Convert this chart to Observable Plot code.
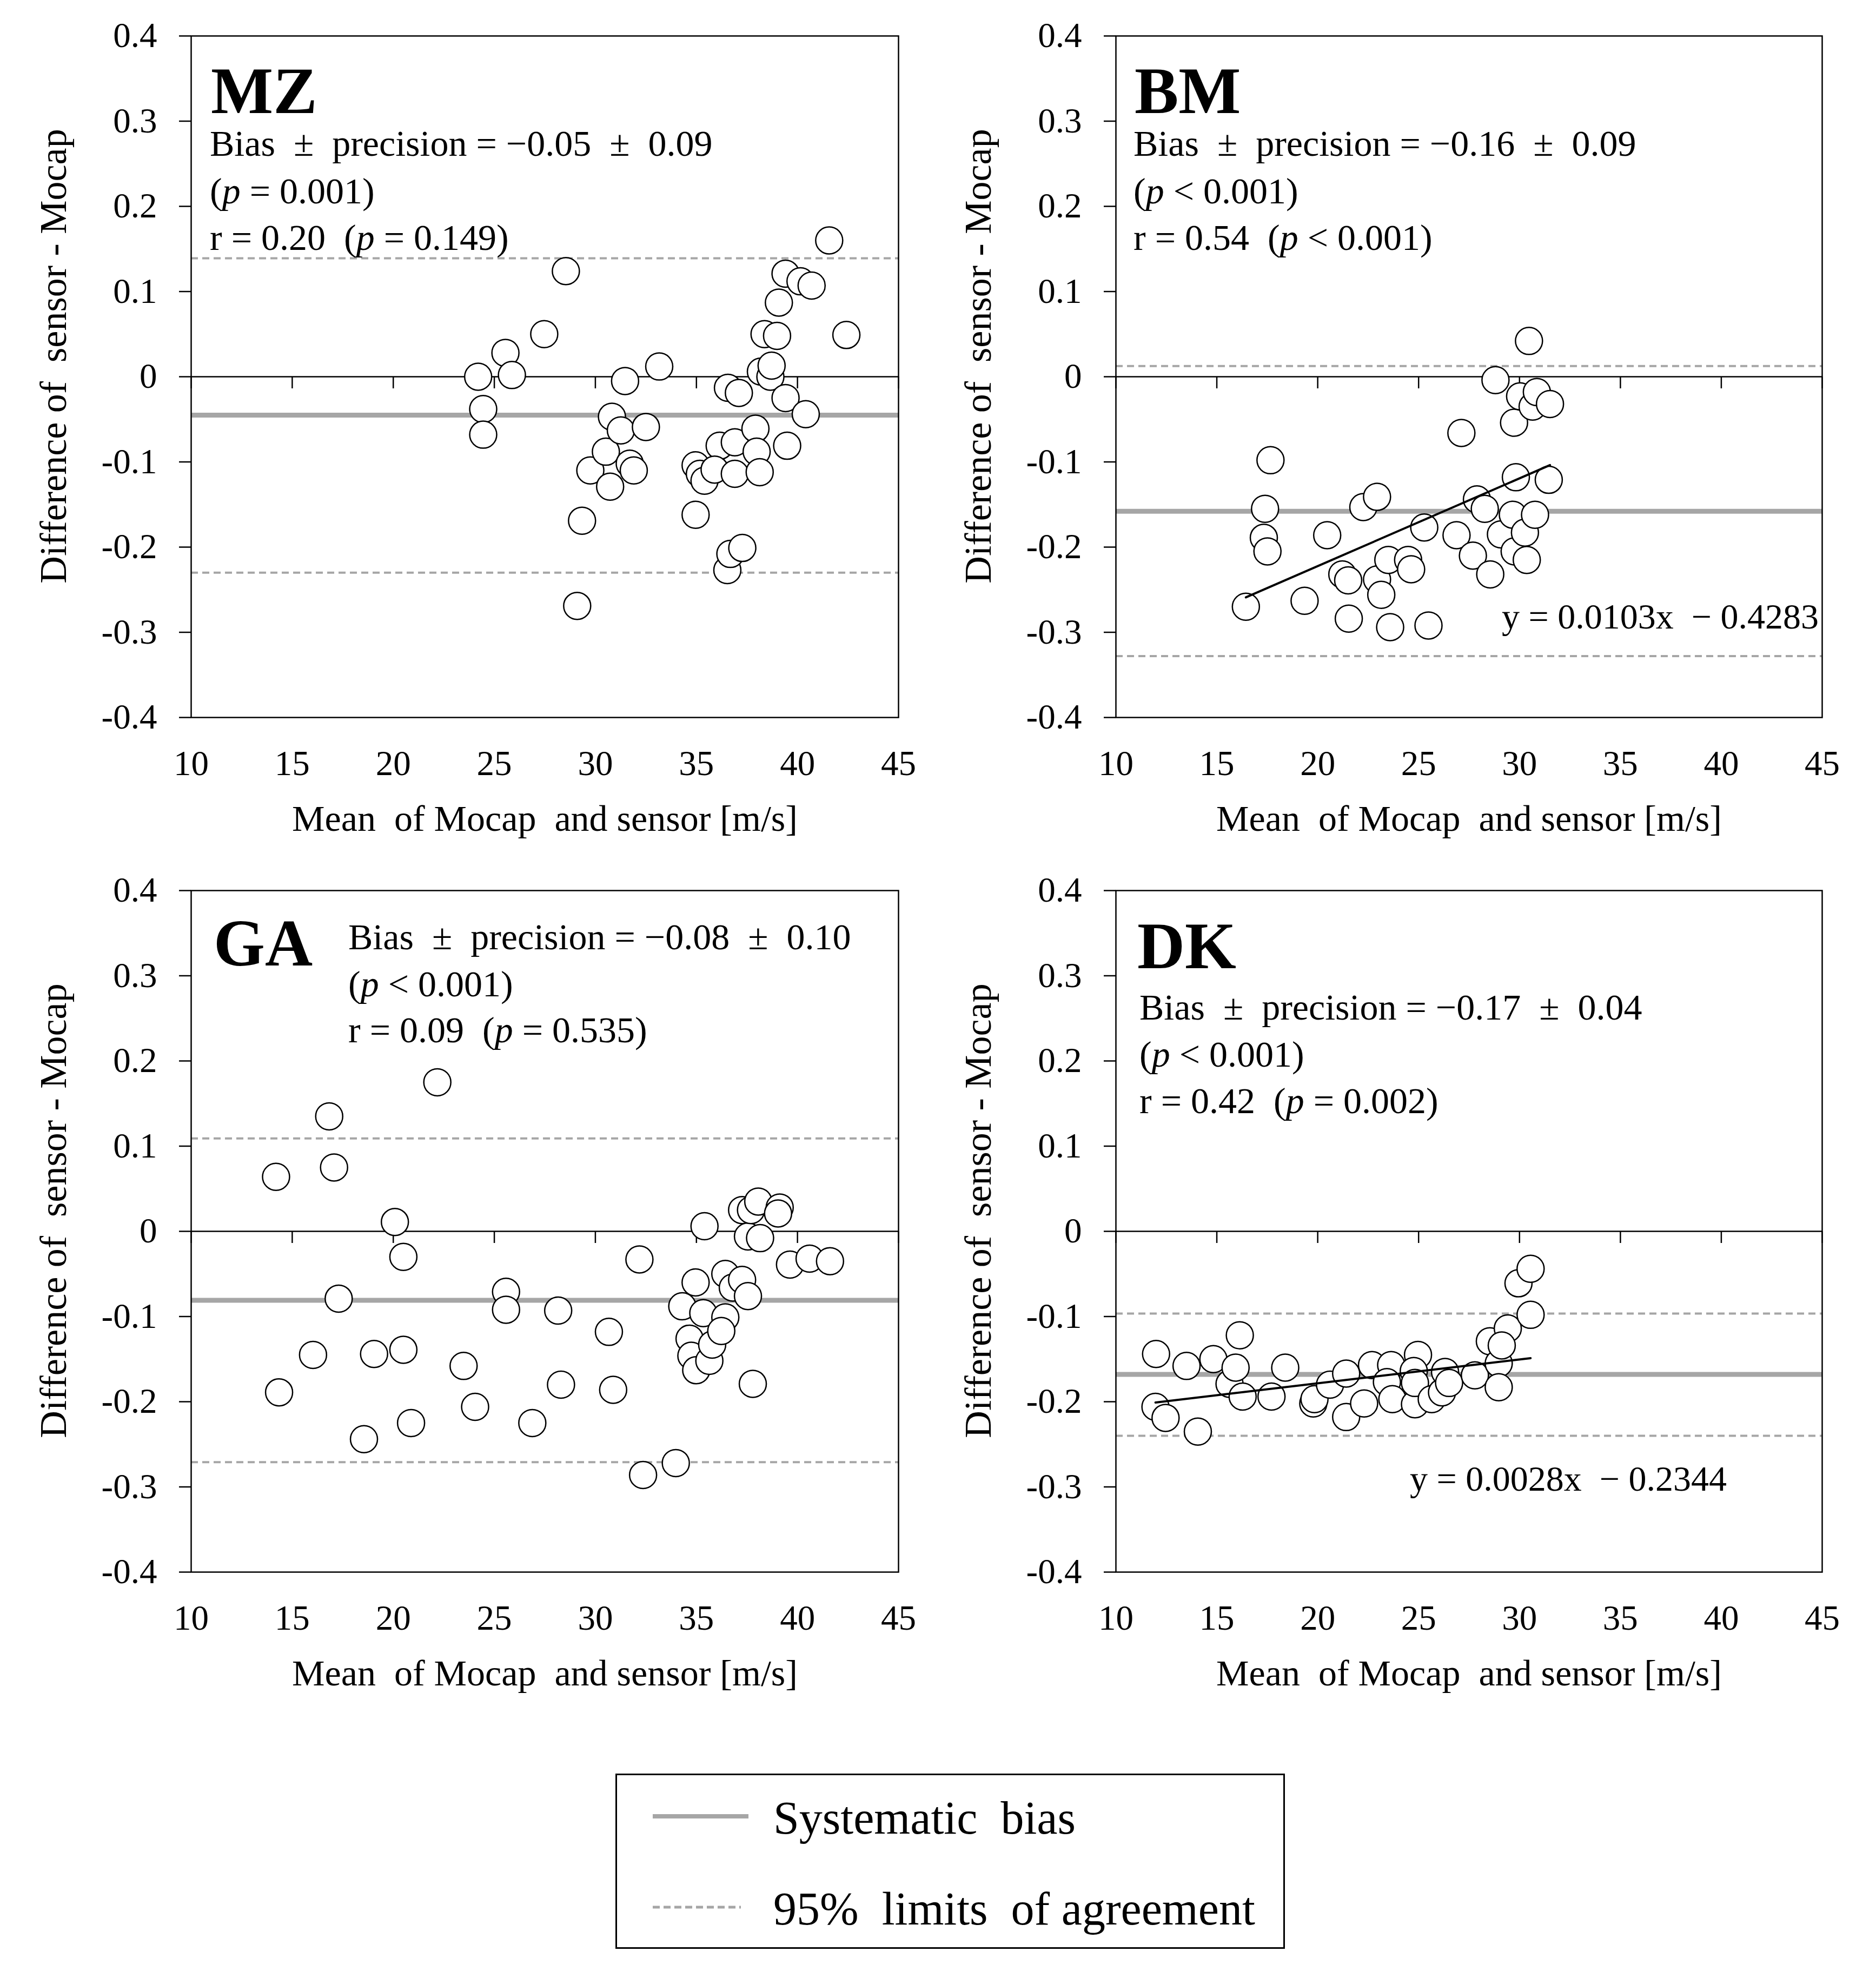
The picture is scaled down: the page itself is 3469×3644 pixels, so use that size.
<!DOCTYPE html>
<html>
<head>
<meta charset="utf-8">
<script src="https://cdn.jsdelivr.net/npm/d3@7"></script>
<script src="https://cdn.jsdelivr.net/npm/@observablehq/plot@0.6"></script>
<style>
  html, body { margin: 0; padding: 0; background: #fff; }
  #root { position: relative; width: 3469px; height: 3644px; background: #fff; overflow: hidden;
          font-family: "Liberation Serif", "Times New Roman", serif; color: #000; }
  .panel { position: absolute; }
  .panel svg text { white-space: pre; }
  #legend { position: absolute; left: 0; top: 0; }
  #legend text { white-space: pre; }
</style>
</head>
<body>
<div id="root"></div>
<script>
// ---------------- DATA ----------------
const xTicks = [10, 15, 20, 25, 30, 35, 40, 45];
const yTicks = [0.4, 0.3, 0.2, 0.1, 0, -0.1, -0.2, -0.3, -0.4];
const xTitle = "Mean  of Mocap  and sensor [m/s]";
const yTitle = "Difference of  sensor - Mocap";
const panelNames = ["MZ", "BM", "GA", "DK"];

const mzX = [24.2, 24.45, 24.45, 25.55, 25.87, 27.47, 28.54, 29.1, 29.34, 29.75, 30.52, 30.73, 30.82, 31.26, 31.47, 31.7, 31.9, 32.5, 33.16, 34.96, 35.17, 35.4, 34.96, 36.15, 35.9, 36.56, 37.1, 36.9, 36.9, 36.53, 36.68, 37.27, 37.92, 37.98, 38.13, 38.19, 38.37, 38.66, 38.72, 38.99, 39.08, 39.41, 39.41, 39.49, 40.15, 40.7, 40.41, 41.57, 42.42];
const mzY = [0.0, -0.038, -0.068, 0.028, 0.002, 0.05, 0.124, -0.269, -0.169, -0.11, -0.088, -0.129, -0.047, -0.063, -0.005, -0.102, -0.11, -0.059, 0.012, -0.104, -0.114, -0.122, -0.162, -0.081, -0.109, -0.013, -0.019, -0.077, -0.114, -0.227, -0.208, -0.201, -0.061, -0.088, -0.112, 0.006, 0.05, 0.0, 0.013, 0.048, 0.087, 0.121, -0.025, -0.081, 0.112, 0.107, -0.044, 0.16, 0.049];

const bmX = [16.44, 17.66, 17.39, 17.33, 17.51, 19.35, 20.47, 21.22, 21.51, 21.54, 22.26, 22.94, 22.94, 23.15, 23.59, 23.5, 24.48, 24.63, 25.28, 25.49, 26.88, 27.12, 27.69, 27.89, 28.28, 28.55, 28.81, 29.08, 29.73, 29.82, 29.67, 29.76, 30.03, 30.27, 30.36, 30.47, 30.65, 30.86, 30.77, 31.51, 31.45];
const bmY = [-0.27, -0.098, -0.155, -0.189, -0.205, -0.263, -0.186, -0.232, -0.239, -0.284, -0.153, -0.141, -0.238, -0.256, -0.294, -0.215, -0.215, -0.226, -0.177, -0.292, -0.186, -0.066, -0.21, -0.144, -0.155, -0.232, -0.004, -0.185, -0.054, -0.118, -0.162, -0.205, -0.023, -0.183, -0.215, 0.042, -0.035, -0.018, -0.162, -0.032, -0.121];

const gaX = [14.2, 14.35, 16.03, 16.83, 17.07, 17.3, 18.55, 19.05, 20.08, 20.5, 20.5, 20.88, 22.18, 23.48, 24.05, 25.58, 25.58, 26.88, 28.16, 28.3, 30.67, 30.88, 32.18, 32.36, 33.98, 34.3, 34.96, 34.66, 34.75, 34.99, 35.4, 35.34, 35.64, 35.78, 36.43, 36.43, 36.23, 36.8, 37.26, 37.26, 37.55, 37.79, 37.55, 37.7, 38.06, 38.15, 39.12, 39.04, 39.63, 40.6, 41.61];
const gaY = [0.064, -0.189, -0.145, 0.135, 0.075, -0.079, -0.244, -0.144, 0.011, -0.03, -0.139, -0.225, 0.175, -0.158, -0.206, -0.071, -0.092, -0.225, -0.093, -0.18, -0.118, -0.186, -0.033, -0.286, -0.272, -0.088, -0.06, -0.126, -0.146, -0.163, 0.006, -0.096, -0.152, -0.133, -0.05, -0.101, -0.117, -0.066, -0.057, 0.025, -0.076, -0.179, -0.006, 0.025, 0.035, -0.008, 0.028, 0.021, -0.039, -0.032, -0.035];

const dkX = [11.99, 11.96, 12.46, 13.5, 14.06, 14.83, 15.63, 15.93, 16.14, 16.28, 17.71, 18.39, 19.78, 19.84, 20.61, 21.41, 21.41, 22.3, 22.69, 23.64, 23.43, 23.7, 24.97, 24.76, 24.82, 24.82, 25.65, 26.16, 26.31, 26.51, 27.79, 28.53, 28.97, 28.97, 29.42, 29.12, 29.95, 30.55, 30.55];
const dkY = [-0.144, -0.206, -0.219, -0.158, -0.235, -0.15, -0.179, -0.16, -0.122, -0.194, -0.194, -0.16, -0.202, -0.197, -0.18, -0.167, -0.218, -0.202, -0.157, -0.157, -0.177, -0.197, -0.145, -0.164, -0.203, -0.178, -0.197, -0.189, -0.165, -0.178, -0.169, -0.129, -0.155, -0.183, -0.114, -0.134, -0.061, -0.098, -0.044];

const biasValues = [-0.045, -0.158, -0.081, -0.168];
const loaUpper = [0.139, 0.0126, 0.109, -0.0965];
const loaLower = [-0.230, -0.328, -0.271, -0.240];
const fitSlope = [null, 0.0103, null, 0.0028];
const fitIntercept = [null, -0.4283, null, -0.2344];
const fitLabels = [null, "y = 0.0103x  \u2212 0.4283", null, "y = 0.0028x  \u2212 0.2344"];

const statLine1 = [
  "Bias  \u00b1  precision = \u22120.05  \u00b1  0.09",
  "Bias  \u00b1  precision = \u22120.16  \u00b1  0.09",
  "Bias  \u00b1  precision = \u22120.08  \u00b1  0.10",
  "Bias  \u00b1  precision = \u22120.17  \u00b1  0.04"
];
const statLine2 = ["(*p* = 0.001)", "(*p* < 0.001)", "(*p* < 0.001)", "(*p* < 0.001)"];
const statLine3 = ["r = 0.20  (*p* = 0.149)", "r = 0.54  (*p* < 0.001)", "r = 0.09  (*p* = 0.535)", "r = 0.42  (*p* = 0.002)"];

const legendLabels = ["Systematic  bias", "95%  limits  of agreement"];

const seriesX = [mzX, bmX, gaX, dkX];
const seriesY = [mzY, bmY, gaY, dkY];

// ---------------- LAYOUT ----------------
const panelLayout = [
  {left: 0,    top: 0,    width: 1734, height: 1580, ml: 353, mr: 73,  mt: 66, mb: 254,
   tag: [390, 209], stats: [388, [288, 376, 462]], fit: null},
  {left: 1734, top: 0,    width: 1735, height: 1580, ml: 329, mr: 100, mt: 66, mb: 254,
   tag: [364, 209], stats: [362, [288, 376, 462]], fit: [1043, 1162]},
  {left: 0,    top: 1580, width: 1734, height: 1580, ml: 353, mr: 73,  mt: 66, mb: 254,
   tag: [395, 205], stats: [644, [175, 262, 347]], fit: null},
  {left: 1734, top: 1580, width: 1735, height: 1580, ml: 329, mr: 100, mt: 66, mb: 254,
   tag: [369, 210], stats: [373, [305, 392, 478]], fit: [873, 1176]}
];

const FONT = "Liberation Serif";
const GRAY = "#a6a6a6";

function addRichText(svg, x, y, str, size, weight) {
  const t = d3.select(svg).append("text")
    .attr("x", x).attr("y", y)
    .attr("text-anchor", "start")
    .attr("font-family", FONT)
    .attr("font-size", size)
    .attr("font-weight", weight || "normal")
    .attr("fill", "black")
    .style("white-space", "pre");
  str.split(/(\*p\*)/).forEach(seg => {
    if (!seg) return;
    if (seg === "*p*") t.append("tspan").attr("font-style", "italic").text("p");
    else t.append("tspan").text(seg);
  });
}

function makePanel(i) {
  const L = panelLayout[i];
  const xs = seriesX[i], ys = seriesY[i];
  const pts = xs.map((x, k) => ({x, y: ys[k]}));
  const marks = [
    Plot.ruleY([0], {stroke: "black", strokeWidth: 2.5}),
    Plot.ruleX(xTicks, {x: d => d, y1: () => 0, y2: () => 0, insetBottom: -22, stroke: "black", strokeWidth: 2.5}),
    Plot.ruleY([biasValues[i]], {stroke: GRAY, strokeWidth: 9}),
    Plot.ruleY([loaUpper[i], loaLower[i]], {stroke: GRAY, strokeWidth: 4, strokeDasharray: "13,8"}),
    Plot.dot(pts, {x: "x", y: "y", r: 25, fill: "white", stroke: "black", strokeWidth: 2.5})
  ];
  if (fitSlope[i] != null) {
    const ext = d3.extent(xs);
    marks.push(Plot.line(ext, {x: d => d, y: d => fitSlope[i] * d + fitIntercept[i], stroke: "black", strokeWidth: 4}));
  }
  marks.push(
    Plot.frame({stroke: "black", strokeWidth: 2.5}),
    Plot.axisY(yTicks, {tickSize: 22, tickPadding: 41, strokeWidth: 2.5, label: null,
      tickFormat: d => d === 0 ? "0" : d.toFixed(1)}),
    Plot.axisX(xTicks, {tickSize: 0, tickPadding: 60, label: null, tickFormat: d => String(d)}),
    Plot.text([xTitle], {text: d => d, frameAnchor: "bottom", textAnchor: "middle", dy: 209, fontSize: 68}),
    Plot.text([yTitle], {text: d => d, frameAnchor: "left", textAnchor: "middle", rotate: -90, dx: -254, dy: -38, fontSize: 70})
  );
  const svg = Plot.plot({
    width: L.width, height: L.height,
    marginLeft: L.ml, marginRight: L.mr, marginTop: L.mt, marginBottom: L.mb,
    x: {domain: [10, 45], label: null},
    y: {domain: [-0.4, 0.4], label: null},
    style: {fontFamily: FONT, fontSize: "65px", color: "black", background: "white", overflow: "visible"},
    marks
  });
  // annotations
  addRichText(svg, L.tag[0], L.tag[1], panelNames[i], 122, "bold");
  const lines = [statLine1[i], statLine2[i], statLine3[i]];
  lines.forEach((s, k) => addRichText(svg, L.stats[0], L.stats[1][k], s, 68));
  if (L.fit && fitLabels[i]) addRichText(svg, L.fit[0], L.fit[1], fitLabels[i], 66);

  const div = document.createElement("div");
  div.className = "panel";
  div.style.left = L.left + "px";
  div.style.top = L.top + "px";
  div.appendChild(svg);
  document.getElementById("root").appendChild(div);
}

[0, 1, 2, 3].forEach(makePanel);

// ---------------- LEGEND ----------------
(function legend() {
  const root = d3.select("#root");
  const svg = root.append("svg").attr("id", "legend")
    .attr("width", 3469).attr("height", 3644)
    .style("pointer-events", "none");
  svg.append("rect").attr("x", 1139.5).attr("y", 3280.5).attr("width", 1235).attr("height", 321)
    .attr("fill", "white").attr("stroke", "black").attr("stroke-width", 3);
  svg.append("line").attr("x1", 1207).attr("x2", 1384).attr("y1", 3358).attr("y2", 3358)
    .attr("stroke", GRAY).attr("stroke-width", 8);
  svg.append("line").attr("x1", 1207).attr("x2", 1370).attr("y1", 3526).attr("y2", 3526)
    .attr("stroke", GRAY).attr("stroke-width", 5).attr("stroke-dasharray", "13,7");
  const ys = [3390, 3558];
  legendLabels.forEach((s, k) => {
    svg.append("text").attr("x", 1430).attr("y", ys[k])
      .attr("text-anchor", "start")
      .attr("font-family", FONT).attr("font-size", 86).attr("fill", "black")
      .style("white-space", "pre").text(s);
  });
})();
</script>
</body>
</html>
